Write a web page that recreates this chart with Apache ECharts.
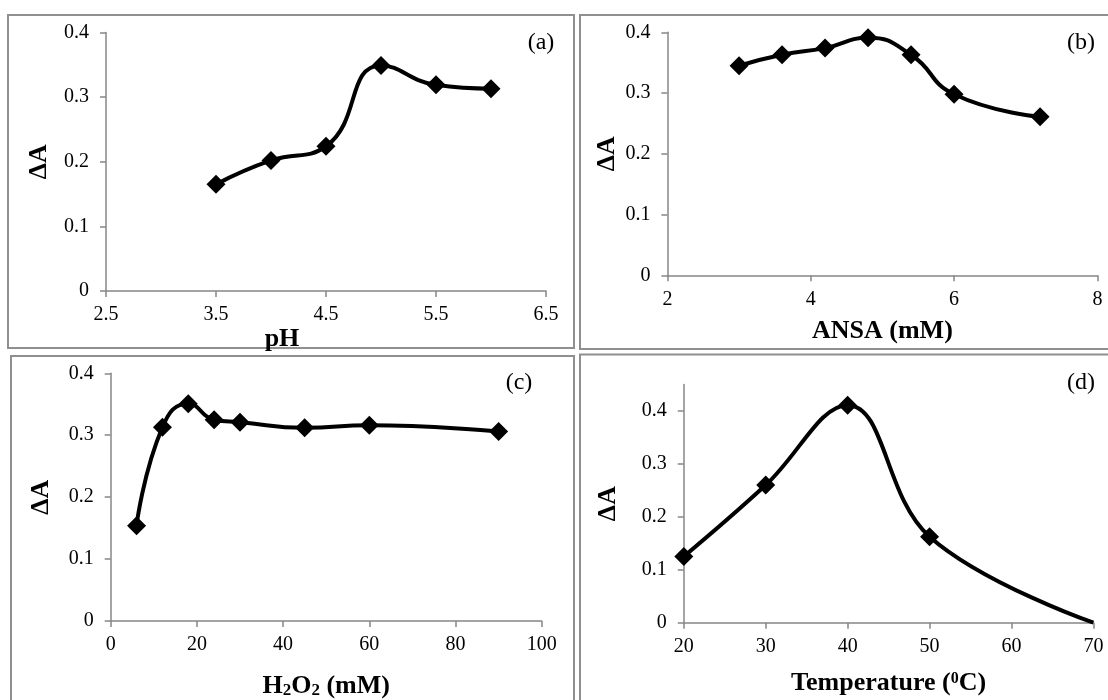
<!DOCTYPE html>
<html>
<head>
<meta charset="utf-8">
<script src="https://cdn.jsdelivr.net/npm/echarts@6/dist/echarts.min.js"></script>
<style>
html,body{margin:0;padding:0;background:#fff;}
#c{width:1108px;height:700px;}
</style>
</head>
<body>
<div id="c"></div>
<script>
// ---- data ----
const phX = [3.5, 4.0, 4.5, 5.0, 5.5, 6.0];
const phY = [0.165, 0.202, 0.224, 0.349, 0.319, 0.313];
const ansaX = [3.0, 3.6, 4.2, 4.8, 5.4, 6.0, 7.2];
const ansaY = [0.345, 0.363, 0.374, 0.391, 0.363, 0.298, 0.261];
const h2o2X = [6, 12, 18, 24, 30, 45, 60, 90];
const h2o2Y = [0.154, 0.313, 0.351, 0.325, 0.321, 0.312, 0.316, 0.306];
const tempX = [20, 30, 40, 50, 70];
const tempY = [0.125, 0.260, 0.411, 0.1625, 0];
const tempMarked = [true, true, true, true, false];

const phTicks = [2.5, 3.5, 4.5, 5.5, 6.5];
const yTicks = [0, 0.1, 0.2, 0.3, 0.4];
const panelLabels = ['(a)', '(b)', '(c)', '(d)'];
const xNames = ['pH', 'ANSA (mM)', 'H{sub|2}O{sub|2} (mM)', 'Temperature ({sup|0}C)'];
const yName = '\u0394A';

const FONT = '"Liberation Serif", "Times New Roman", serif';
const AXIS_GRAY = '#878787';

function pairs(xs, ys) { return xs.map((x, i) => [x, ys[i]]); }

const chart = echarts.init(document.getElementById('c'), null, {renderer: 'canvas'});

const grids = [
  {left: 106, top: 32.5, width: 440, height: 258.5},
  {left: 667.4, top: 32.3, width: 430, height: 243},
  {left: 110.7, top: 373.3, width: 431, height: 254.4},
  {left: 683.8, top: 384.5, width: 409.6, height: 238.2}
];

const nameRich = {
  sub: {fontFamily: FONT, fontSize: 17, fontWeight: 'bold', color: '#000', verticalAlign: 'bottom', lineHeight: 4},
  sup: {fontFamily: FONT, fontSize: 16, fontWeight: 'bold', color: '#000', verticalAlign: 'top', lineHeight: 14}
};

function nameStyle(extra) {
  return Object.assign({color: '#000', fontFamily: FONT, fontSize: 26, fontWeight: 'bold', lineHeight: 26, rich: nameRich}, extra || {});
}

function baseX(i, opt) {
  return Object.assign({
    type: 'value', gridIndex: i,
    splitLine: {show: false},
    axisLine: {show: true, lineStyle: {color: AXIS_GRAY, width: 1.5}},
    axisTick: {show: true, inside: false, length: 6, lineStyle: {color: AXIS_GRAY, width: 1.5}},
    axisLabel: {color: '#000', fontFamily: FONT, fontSize: 20, margin: 14},
    name: xNames[i], nameLocation: 'middle',
    nameTextStyle: nameStyle()
  }, opt);
}
function baseY(i, opt) {
  return Object.assign({
    type: 'value', gridIndex: i,
    splitLine: {show: false},
    axisLine: {show: true, lineStyle: {color: AXIS_GRAY, width: 1.5}},
    axisTick: {show: true, inside: false, length: 6, lineStyle: {color: AXIS_GRAY, width: 1.5}},
    axisLabel: {color: '#000', fontFamily: FONT, fontSize: 20, margin: 17},
    name: yName, nameLocation: 'middle',
    nameTextStyle: nameStyle()
  }, opt);
}

const xAxes = [
  baseX(0, {min: 2.5, max: 6.5, nameGap: 24,
    axisTick: {show: true, length: 6, customValues: phTicks, lineStyle: {color: AXIS_GRAY, width: 1.5}},
    axisLabel: {color: '#000', fontFamily: FONT, fontSize: 20, margin: 14, customValues: phTicks},
    nameTextStyle: nameStyle({padding: [0, 88, 0, 0]})}),
  baseX(1, {min: 2, max: 8, interval: 2, nameGap: 43}),
  baseX(2, {min: 0, max: 100, interval: 20, nameGap: 52}),
  baseX(3, {min: 20, max: 70, interval: 10, nameGap: 48})
];
const yAxes = [
  baseY(0, {min: 0, max: 0.4, interval: 0.1, nameGap: 54}),
  baseY(1, {min: 0, max: 0.4, interval: 0.1, nameGap: 47}),
  baseY(2, {min: 0, max: 0.4, interval: 0.1, nameGap: 56}),
  baseY(3, {min: 0, max: 0.45, nameGap: 63,
    axisTick: {show: true, length: 6, customValues: yTicks, lineStyle: {color: AXIS_GRAY, width: 1.5}},
    axisLabel: {color: '#000', fontFamily: FONT, fontSize: 20, margin: 17, customValues: yTicks}})
];

function lineSeries(i, data, smooth) {
  return {
    type: 'line', xAxisIndex: i, yAxisIndex: i, data: data,
    smooth: smooth, clip: false,
    symbol: 'diamond', symbolSize: 19,
    lineStyle: {color: '#000', width: 4},
    itemStyle: {color: '#000'},
    emphasis: {disabled: true}
  };
}

const tempData = tempX.map((x, k) => tempMarked[k] ? [x, tempY[k]] : {value: [x, tempY[k]], symbol: 'none'});

const series = [
  lineSeries(0, pairs(phX, phY), 0.5),
  lineSeries(1, pairs(ansaX, ansaY), 0.5),
  lineSeries(2, pairs(h2o2X, h2o2Y), 0.5),
  lineSeries(3, tempData, 0.4)
];

const boxes = [
  {x: 8, y: 15, w: 566, h: 333},
  {x: 580, y: 15, w: 540, h: 334},
  {x: 11, y: 356, w: 563, h: 360},
  {x: 580, y: 354.5, w: 540, h: 360}
];
const labelPos = [[541, 43], [1081, 43], [519, 383], [1081, 383]];

const graphics = [];
boxes.forEach(b => graphics.push({
  type: 'rect', silent: true,
  shape: {x: b.x, y: b.y, width: b.w, height: b.h},
  style: {fill: 'none', stroke: '#8f8f8f', lineWidth: 2}
}));
panelLabels.forEach((t, k) => graphics.push({
  type: 'text', silent: true, x: labelPos[k][0], y: labelPos[k][1],
  style: {text: t, fill: '#000', font: '24px ' + FONT, align: 'center', verticalAlign: 'middle'}
}));

chart.setOption({
  animation: false,
  backgroundColor: '#fff',
  grid: grids.map(g => Object.assign({containLabel: false}, g)),
  xAxis: xAxes,
  yAxis: yAxes,
  series: series,
  graphic: graphics
});
</script>
</body>
</html>
